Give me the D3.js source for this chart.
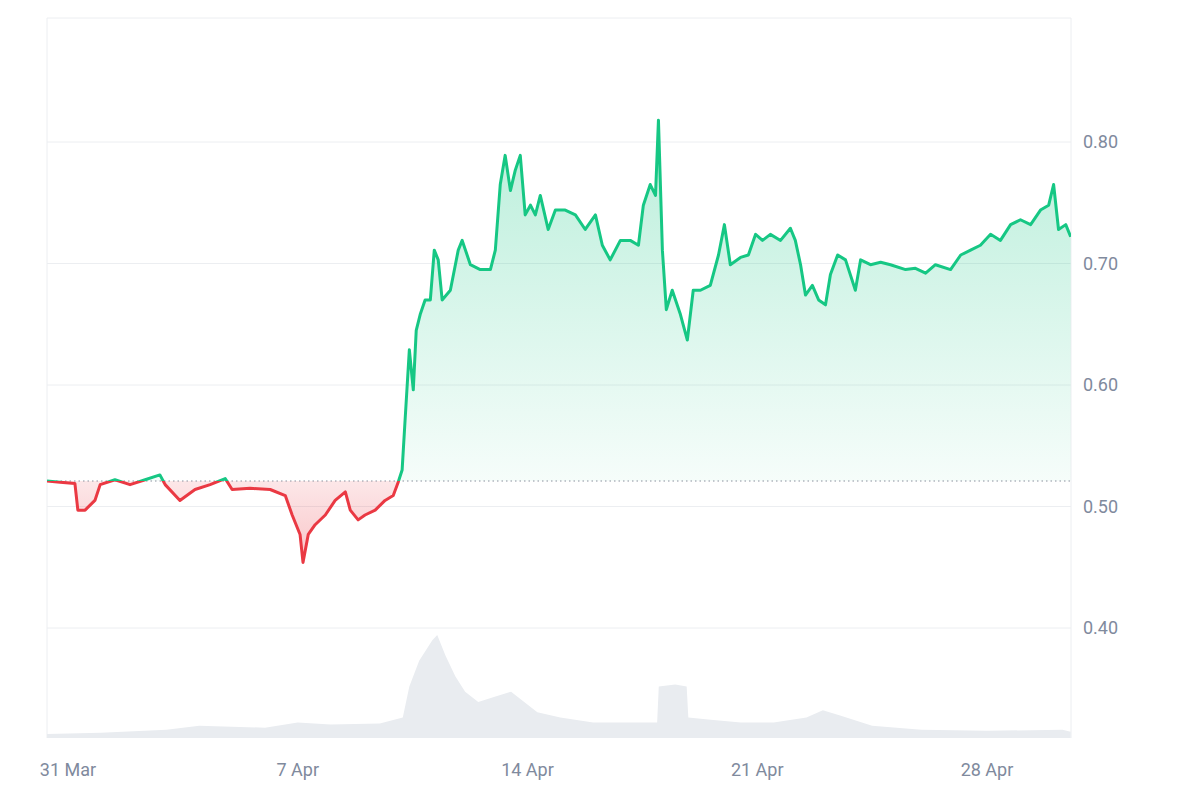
<!DOCTYPE html>
<html><head><meta charset="utf-8">
<script src="https://cdn.jsdelivr.net/npm/d3@7"></script>
<style>body{margin:0;background:#fff;font-family:Roboto,"Noto Sans",sans-serif}</style>
</head><body><svg id="chart" width="1200" height="800"></svg>
<script>
// price: days after 31 Mar, value
const priceDays = [-0.64,-0.24,0.21,0.30,0.52,0.82,0.98,1.43,1.89,2.35,2.80,2.96,3.41,3.87,4.33,4.79,5.00,5.55,6.16,6.62,6.83,7.07,7.16,7.32,7.53,7.84,8.14,8.45,8.60,8.84,9.05,9.36,9.66,9.91,10.06,10.18,10.27,10.40,10.52,10.61,10.73,10.88,11.04,11.16,11.28,11.40,11.65,11.89,12.01,12.26,12.56,12.87,13.02,13.17,13.32,13.48,13.63,13.78,13.93,14.09,14.24,14.39,14.63,14.85,15.15,15.46,15.76,16.07,16.28,16.52,16.83,17.13,17.38,17.53,17.74,17.90,17.99,18.11,18.23,18.41,18.66,18.87,19.05,19.27,19.57,19.82,20.00,20.18,20.49,20.73,20.95,21.16,21.40,21.71,22.01,22.16,22.32,22.47,22.68,22.87,23.08,23.23,23.45,23.69,23.99,24.15,24.45,24.76,25.06,25.52,25.82,26.13,26.43,26.89,27.20,27.50,27.80,28.11,28.41,28.72,29.02,29.33,29.63,29.88,30.03,30.18,30.40,30.55];
const prices = [0.521,0.520,0.519,0.497,0.497,0.505,0.518,0.522,0.518,0.522,0.526,0.518,0.505,0.514,0.518,0.523,0.514,0.515,0.514,0.509,0.493,0.477,0.454,0.477,0.485,0.493,0.505,0.512,0.497,0.489,0.493,0.497,0.505,0.509,0.520,0.530,0.571,0.629,0.596,0.645,0.658,0.670,0.670,0.711,0.703,0.670,0.678,0.711,0.719,0.699,0.695,0.695,0.711,0.765,0.789,0.760,0.777,0.789,0.740,0.748,0.740,0.756,0.728,0.744,0.744,0.740,0.728,0.740,0.715,0.703,0.719,0.719,0.715,0.748,0.765,0.756,0.818,0.711,0.662,0.678,0.658,0.637,0.678,0.678,0.682,0.707,0.732,0.699,0.705,0.707,0.724,0.719,0.724,0.719,0.729,0.719,0.699,0.674,0.682,0.670,0.666,0.691,0.707,0.703,0.678,0.703,0.699,0.701,0.699,0.695,0.696,0.692,0.699,0.695,0.707,0.711,0.715,0.724,0.719,0.732,0.736,0.732,0.744,0.748,0.765,0.728,0.732,0.722];
const volDays = [-0.64,1,3,4,6,7,8,9.5,10.2,10.4,10.7,11.1,11.25,11.5,11.8,12.1,12.5,13.0,13.5,13.9,14.3,15,16,17,17.95,18.0,18.5,18.85,18.9,19.5,20.5,21.5,22.5,23,23.5,24.5,26,28,30.3,30.55];
const volumes = [4,5,8,12,10,15,13,14,20,50,75,95,100,80,60,45,35,40,45,35,25,20,15,15,15,50,52,50,20,18,15,15,20,27,22,12,8,7,8,6];
const baseline = 0.521;
const yTicks = [0.40,0.50,0.60,0.70,0.80];
const xTicks = [0,7,14,21,28];
const xLabels = ["31 Mar","7 Apr","14 Apr","21 Apr","28 Apr"];

const L = 47, R = 1071, T = 18, B = 738;
const svg = d3.select("#chart");
const x = d3.scaleLinear().domain([-0.64, 30.56]).range([L, R]);
const y = d3.scaleLinear().domain([0.40, 0.80]).range([628, 142]);
const yv = d3.scaleLinear().domain([0, 100]).range([B, B - 103]);
const price = priceDays.map((d, i) => ({d, v: prices[i]}));
const vol = volDays.map((d, i) => ({d, v: volumes[i]}));

const defs = svg.append("defs");
const gg = defs.append("linearGradient").attr("id", "gGreen").attr("x1", 0).attr("x2", 0).attr("y1", 0).attr("y2", 1)
  .attr("gradientUnits", "userSpaceOnUse").attr("y1", 120).attr("y2", y(baseline));
gg.append("stop").attr("offset", 0).attr("stop-color", "#16c784").attr("stop-opacity", 0.3);
gg.append("stop").attr("offset", 1).attr("stop-color", "#16c784").attr("stop-opacity", 0.04);
const gr = defs.append("linearGradient").attr("id", "gRed").attr("x1", 0).attr("x2", 0)
  .attr("gradientUnits", "userSpaceOnUse").attr("y1", y(baseline)).attr("y2", 565);
gr.append("stop").attr("offset", 0).attr("stop-color", "#ea3943").attr("stop-opacity", 0.12);
gr.append("stop").attr("offset", 1).attr("stop-color", "#ea3943").attr("stop-opacity", 0.3);
defs.append("clipPath").attr("id", "above").append("rect").attr("x", L).attr("y", T).attr("width", R - L).attr("height", y(baseline) - T);
defs.append("clipPath").attr("id", "below").append("rect").attr("x", L).attr("y", y(baseline)).attr("width", R - L).attr("height", B - y(baseline));

// grid
svg.append("g").selectAll("line").data(yTicks).join("line")
  .attr("x1", L).attr("x2", R).attr("y1", d => y(d)).attr("y2", d => y(d))
  .attr("stroke", "#eceef1");
svg.append("line").attr("x1", L).attr("x2", R).attr("y1", T).attr("y2", T).attr("stroke", "#eceef1");
[L, R].forEach(v => svg.append("line").attr("x1", v).attr("x2", v).attr("y1", T).attr("y2", B).attr("stroke", "#eceef1"));

// volume
svg.append("path").datum(vol).attr("fill", "#e9ecf0")
  .attr("d", d3.area().x(d => x(d.d)).y0(B).y1(d => yv(d.v)));

// price areas
const area = d3.area().x(d => x(d.d)).y0(y(baseline)).y1(d => y(d.v));
const line = d3.line().x(d => x(d.d)).y(d => y(d.v));
svg.append("path").datum(price).attr("clip-path", "url(#above)").attr("fill", "url(#gGreen)").attr("d", area);
svg.append("path").datum(price).attr("clip-path", "url(#below)").attr("fill", "url(#gRed)").attr("d", area);
svg.append("line").attr("x1", L).attr("x2", R).attr("y1", y(baseline)).attr("y2", y(baseline))
  .attr("stroke", "#8a919e").attr("stroke-dasharray", "1.5,3").attr("stroke-width", 1.2);
svg.append("path").datum(price).attr("clip-path", "url(#above)").attr("fill", "none").attr("stroke", "#16c784").attr("stroke-width", 3).attr("stroke-linejoin", "round").attr("d", line);
svg.append("path").datum(price).attr("clip-path", "url(#below)").attr("fill", "none").attr("stroke", "#ea3943").attr("stroke-width", 3).attr("stroke-linejoin", "round").attr("d", line);

// axes labels
svg.append("g").selectAll("text").data(yTicks).join("text")
  .attr("x", 1083).attr("y", d => y(d) + 6).attr("font-size", 18).attr("fill", "#808a9d")
  .text(d => d.toFixed(2));
svg.append("g").selectAll("text").data(xTicks).join("text")
  .attr("x", d => x(d)).attr("y", 776).attr("text-anchor", "middle").attr("font-size", 18).attr("fill", "#808a9d")
  .text((d, i) => xLabels[i]);
</script></body></html>
